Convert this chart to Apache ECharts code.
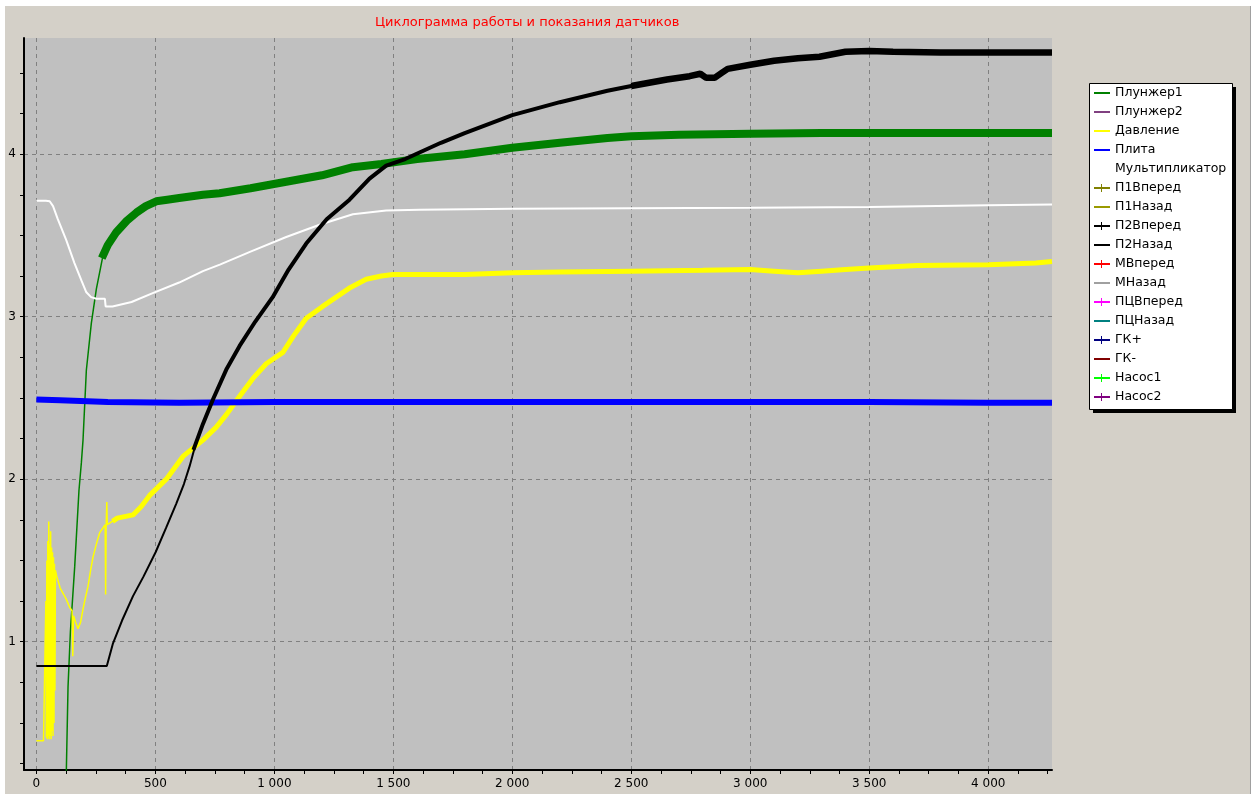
<!DOCTYPE html>
<html>
<head>
<meta charset="utf-8">
<script src="https://cdn.jsdelivr.net/npm/echarts@6/dist/echarts.min.js"></script>
<style>
  html, body { margin: 0; padding: 0; background: #fff; }
  #chart { width: 1257px; height: 794px; }
</style>
</head>
<body>
<div id="chart"></div>
<script>
// Циклограмма: значения, [время, значение]
const X_MIN = -52
const X_MAX = 4268
const Y_MIN = 0.21
const Y_MAX = 4.715

const xLabelValues = [0, 500, 1000, 1500, 2000, 2500, 3000, 3500, 4000]
const xTickValues = [0, 125, 250, 375, 500, 625, 750, 875, 1000, 1125, 1250, 1375, 1500, 1625, 1750, 1875,
  2000, 2125, 2250, 2375, 2500, 2625, 2750, 2875, 3000, 3125, 3250, 3375, 3500, 3625, 3750, 3875,
  4000, 4125, 4250]
const yLabelValues = [1, 2, 3, 4]
const yTickValues = [0.25, 0.5, 0.75, 1, 1.25, 1.5, 1.75, 2, 2.25, 2.5, 2.75, 3, 3.25, 3.5, 3.75, 4, 4.25, 4.5]

const legendNames = ['Плунжер1', 'Плунжер2', 'Давление', 'Плита', 'Мультипликатор', 'П1Вперед', 'П1Назад',
  'П2Вперед', 'П2Назад', 'МВперед', 'МНазад', 'ПЦВперед', 'ПЦНазад', 'ГК+', 'ГК-', 'Насос1', 'Насос2']

// Плунжер1: крутой подъём (тонкая линия) и далее шумная полоса
const plunger1Rise = [[124, 0.10], [126, 0.21], [133, 0.72], [143, 1.06], [161, 1.46], [179, 1.93], [189, 2.10],
  [196, 2.24], [210, 2.67], [231, 2.96], [252, 3.17], [279, 3.37], [300, 3.44]]
const plunger1 = [[275, 3.36], [300, 3.44], [336, 3.52], [380, 3.59], [420, 3.64], [460, 3.68], [504, 3.71],
  [550, 3.72], [600, 3.73], [700, 3.75], [770, 3.76], [900, 3.79], [1050, 3.83], [1200, 3.87], [1330, 3.92],
  [1450, 3.94], [1600, 3.97], [1800, 4.00], [2000, 4.04], [2200, 4.07], [2400, 4.10], [2500, 4.11],
  [2700, 4.12], [3000, 4.125], [3300, 4.13], [3600, 4.13], [3900, 4.13], [4268, 4.13]]

// Давление: начальный участок с выбросами и основная полоса
const pressureStart = [[0, 0.39], [30, 0.39], [38, 0.40], [40, 1.25], [42, 0.41], [44, 1.50], [46, 0.40],
  [48, 1.62], [50, 0.42], [52, 1.74], [54, 0.40], [56, 1.60], [58, 0.42], [60, 1.68], [62, 0.40], [64, 1.58],
  [66, 0.45], [68, 1.55], [70, 0.42], [72, 1.52], [74, 0.50], [76, 1.48], [78, 0.70], [80, 1.44], [86, 1.40],
  [92, 1.37], [100, 1.33], [115, 1.29], [126, 1.26], [140, 1.21], [150, 1.19], [153, 0.91], [156, 1.16],
  [165, 1.12], [175, 1.08], [186, 1.12], [196, 1.20], [206, 1.27], [217, 1.34], [228, 1.44], [238, 1.52],
  [252, 1.60], [266, 1.67], [280, 1.70], [289, 1.72], [291, 1.29], [293, 1.70], [296, 1.86], [298, 1.72],
  [308, 1.73], [340, 1.76]]
const pressure = [[320, 1.74], [340, 1.76], [406, 1.78], [440, 1.83], [476, 1.90], [546, 2.00], [616, 2.14],
  [700, 2.24], [756, 2.32], [800, 2.40], [854, 2.51], [910, 2.62], [966, 2.71], [1036, 2.78], [1080, 2.88],
  [1134, 2.99], [1200, 3.06], [1260, 3.12], [1320, 3.18], [1386, 3.23], [1450, 3.25], [1498, 3.26],
  [1600, 3.26], [1800, 3.26], [2000, 3.27], [2200, 3.275], [2500, 3.28], [2800, 3.285], [3000, 3.29],
  [3100, 3.28], [3200, 3.27], [3300, 3.28], [3400, 3.29], [3500, 3.30], [3700, 3.315], [4000, 3.32],
  [4200, 3.33], [4268, 3.34]]

const plate = [[0, 2.49], [100, 2.485], [300, 2.475], [600, 2.47], [1000, 2.475], [1500, 2.475], [2000, 2.475],
  [2500, 2.475], [3000, 2.475], [3500, 2.475], [4000, 2.47], [4268, 2.47]]

const multiplier = [[0, 3.714], [40, 3.714], [56, 3.71], [70, 3.68], [90, 3.60], [126, 3.47], [160, 3.33],
  [190, 3.22], [210, 3.15], [230, 3.12], [252, 3.11], [288, 3.11], [291, 3.063], [320, 3.063], [400, 3.09],
  [489, 3.145], [600, 3.21], [700, 3.28], [771, 3.32], [900, 3.40], [1050, 3.49], [1190, 3.566], [1330, 3.63],
  [1470, 3.654], [1610, 3.658], [2000, 3.664], [2500, 3.667], [3000, 3.67], [3500, 3.675], [4000, 3.685],
  [4268, 3.69]]

// П2Назад: ровный участок, рост, затем выход на 4.6
const p2BackStart = [[0, 0.85], [100, 0.85], [200, 0.85], [296, 0.85], [322, 0.99], [360, 1.13], [406, 1.28],
  [450, 1.40], [501, 1.55], [545, 1.70], [588, 1.85], [620, 1.97], [644, 2.08], [670, 2.22], [700, 2.34]]
const p2Back = [[660, 2.18], [700, 2.34], [742, 2.49], [800, 2.68], [854, 2.82], [920, 2.97],
  [993, 3.12], [1060, 3.29], [1134, 3.45], [1220, 3.60], [1316, 3.72], [1400, 3.85], [1470, 3.93],
  [1550, 3.97], [1610, 4.01], [1700, 4.07], [1800, 4.13], [2000, 4.24], [2200, 4.32], [2400, 4.39],
  [2500, 4.42], [2600, 4.45]]
const p2BackEnd = [[2500, 4.42], [2650, 4.46], [2745, 4.48], [2790, 4.495], [2815, 4.47], [2850, 4.47],
  [2880, 4.50], [2905, 4.525], [3000, 4.55], [3100, 4.575], [3200, 4.59], [3291, 4.60], [3400, 4.63],
  [3500, 4.635], [3600, 4.63], [3800, 4.625], [4000, 4.625], [4268, 4.625]]

const COLORS = {
  'Плунжер1': '#008000', 'Плунжер2': '#804080', 'Давление': '#ffff00', 'Плита': '#0000ff',
  'Мультипликатор': '#ffffff', 'П1Вперед': '#808000', 'П1Назад': '#9a9a00', 'П2Вперед': '#000000',
  'П2Назад': '#000000', 'МВперед': '#ff0000', 'МНазад': '#a0a0a0', 'ПЦВперед': '#ff00ff',
  'ПЦНазад': '#008080', 'ГК+': '#000080', 'ГК-': '#800000', 'Насос1': '#00ff00', 'Насос2': '#800080',
}
const WITH_CROSS = ['П1Вперед', 'П2Вперед', 'МВперед', 'ПЦВперед', 'ГК+', 'Насос1', 'Насос2']

// значки легенды: 16x14, крошечные точки по углам задают рамку пути
const LINE_ICON = 'path://M0,0h0.05v0.05H0z M0,6h16v2H0z M15.95,13.95h0.05v0.05h-0.05z'
const CROSS_ICON = 'path://M0,0h0.05v0.05H0z M0,6h7v-3h1v3h8v2h-8v3h-1v-3H0z M15.95,13.95h0.05v0.05h-0.05z'

const FONT = 'DejaVu Sans'
const GRID_LINE = { color: '#808080', type: [4, 4], width: 1 }

function line(name, data, width) {
  return {
    name, type: 'line', data,
    symbol: 'none', showSymbol: false, silent: true, animation: false,
    lineStyle: { color: COLORS[name], width },
    itemStyle: { color: COLORS[name] },
  }
}

const series = [
  line('Плунжер1', plunger1Rise, 1.5),
  line('Плунжер1', plunger1, 8),
  line('Давление', pressureStart, 1.5),
  line('Давление', pressure, 5),
  line('Плита', plate, 6),
  line('Мультипликатор', multiplier, 2),
  line('П2Назад', p2BackStart, 2),
  line('П2Назад', p2Back, 4),
  line('П2Назад', p2BackEnd, 6.5),
]
// пустые ряды только для легенды
for (const n of legendNames) {
  if (!series.some(s => s.name === n)) series.push(line(n, [], 1))
}

const fmtThousands = (v) => String(v).replace(/\B(?=(\d{3})+(?!\d))/g, ' ')

const chart = echarts.init(document.getElementById('chart'), null, { renderer: 'canvas' })
chart.setOption({
  animation: false,
  backgroundColor: '#ffffff',
  title: {
    text: 'Циклограмма работы и показания датчиков',
    left: 375, top: 16, padding: 0,
    textStyle: { color: '#ff0000', fontSize: 13, fontWeight: 'normal', fontFamily: FONT },
  },
  graphic: [
    { type: 'rect', z: -5, shape: { x: 5, y: 6, width: 1245, height: 790 }, style: { fill: '#d4d0c8' } },
    { type: 'rect', z: -5, shape: { x: 1250, y: 6, width: 1, height: 790 }, style: { fill: '#a0a0a0' } },
    { type: 'rect', z: 1, shape: { x: 1093, y: 87, width: 143, height: 326 }, style: { fill: '#000' } },
    { type: 'rect', z: 1, shape: { x: 1089.5, y: 83.5, width: 143, height: 326 },
      style: { fill: '#fff', stroke: '#000', lineWidth: 1 } },
  ],
  legend: {
    data: legendNames.map(n => ({
      name: n,
      icon: WITH_CROSS.includes(n) ? CROSS_ICON : LINE_ICON,
      itemStyle: { color: COLORS[n], borderWidth: 0 },
    })),
    orient: 'vertical',
    left: 1094, top: 86, padding: 0,
    itemWidth: 16, itemHeight: 14, itemGap: 5,
    selectedMode: false, z: 5,
    textStyle: { color: '#000', fontSize: 12.5, fontFamily: FONT },
  },
  grid: { left: 24, right: 205, top: 38, bottom: 24, show: true, backgroundColor: '#c0c0c0', borderWidth: 0 },
  xAxis: [{
    type: 'value', min: X_MIN, max: X_MAX, minInterval: 500, maxInterval: 500,
    axisLine: { onZero: false, lineStyle: { color: '#000', width: 2 } },
    axisTick: { show: false },
    axisLabel: { color: '#000', fontSize: 12, fontFamily: FONT, margin: 8,
      customValues: xLabelValues, formatter: fmtThousands },
    splitLine: { show: true, showMinLine: false, showMaxLine: false, lineStyle: GRID_LINE },
  }, {
    type: 'value', min: X_MIN, max: X_MAX, position: 'bottom',
    axisLine: { show: false, onZero: false },
    axisTick: { show: true, length: 4, customValues: xTickValues, lineStyle: { color: '#000' } },
    axisLabel: { show: false },
    splitLine: { show: false },
  }],
  yAxis: [{
    type: 'value', min: Y_MIN, max: Y_MAX, minInterval: 1, maxInterval: 1,
    axisLine: { show: true, onZero: false, lineStyle: { color: '#000', width: 2 } },
    axisTick: { show: false },
    axisLabel: { color: '#000', fontSize: 12, fontFamily: FONT, margin: 8, customValues: yLabelValues },
    splitLine: { show: true, showMinLine: false, showMaxLine: false, lineStyle: GRID_LINE },
  }, {
    type: 'value', min: Y_MIN, max: Y_MAX, position: 'left',
    axisLine: { show: false, onZero: false },
    axisTick: { show: true, length: 4, customValues: yTickValues, lineStyle: { color: '#000' } },
    axisLabel: { show: false },
    splitLine: { show: false },
  }],
  series,
})
</script>
</body>
</html>
